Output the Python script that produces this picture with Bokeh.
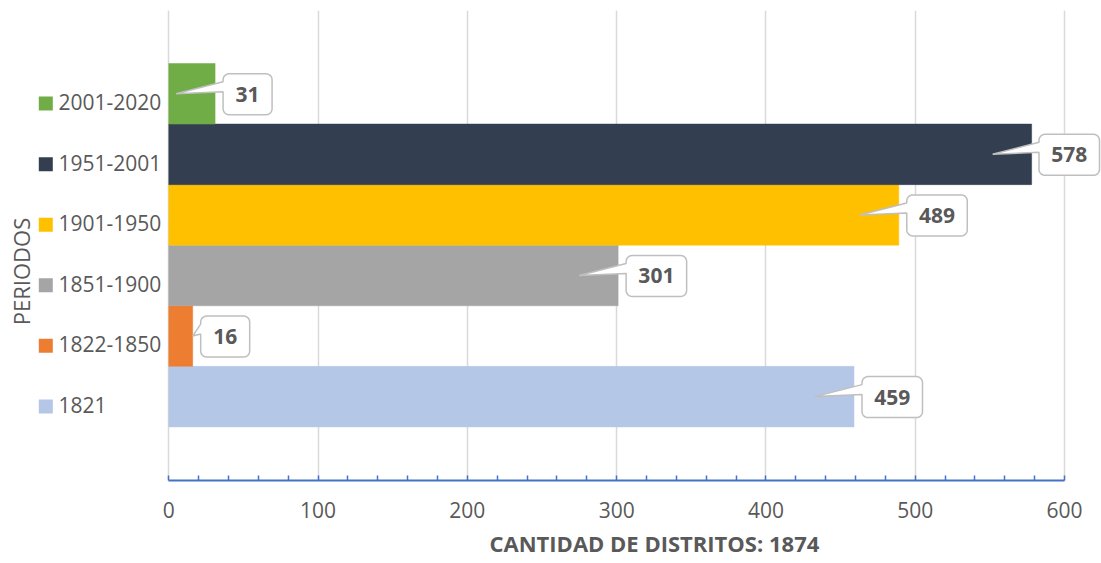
import numpy as np
from bokeh.plotting import figure
from bokeh.models import Range1d, FixedTicker, ColumnDataSource, Title
from bokeh.core.properties import value
from bokeh.embed import file_html
from bokeh.resources import INLINE

# ---------------- data ----------------
categories = ["1821", "1822-1850", "1851-1900", "1901-1950", "1951-2001", "2001-2020"]
counts = [459, 16, 301, 489, 578, 31]
colors = ["#B4C7E7", "#ED7D31", "#A5A5A5", "#FFC000", "#333F50", "#70AD47"]
x_ticks = [0, 100, 200, 300, 400, 500, 600]
x_title = "CANTIDAD DE DISTRITOS: 1874"
y_title = "PERIODOS"

# ---------------- layout constants (pixels) ----------------
W, H = 1101, 563
BT = 10
FRAME_BOTTOM = 480
BB = H - FRAME_BOTTOM
FH = FRAME_BOTTOM - BT
X0_PX = 168.3          # x = 0 measured from frame left
X_SCALE = 1.4928       # px per unit
x_start = -X0_PX / X_SCALE
x_end = x_start + W / X_SCALE
y_start, y_end = -1.385, 6.375
Y_SCALE = FH / (y_end - y_start)
TXT = "#595959"
FONT = "Open Sans"

p = figure(width=W, height=H, x_range=Range1d(x_start, x_end),
           y_range=Range1d(y_start, y_end), output_backend="svg",
           toolbar_location=None, y_axis_location=None,
           min_border_left=0, min_border_right=0,
           min_border_top=BT, min_border_bottom=BB)
p.outline_line_color = None
p.background_fill_color = "white"
p.border_fill_color = "white"
p.ygrid.visible = False

minor = [t for t in range(x_ticks[0], x_ticks[-1], 20) if t not in x_ticks]
ax = p.xaxis[0]
ax.ticker = FixedTicker(ticks=x_ticks, minor_ticks=minor)
ax.bounds = (x_ticks[0], x_ticks[-1])
ax.axis_line_color = "#4472C4"
ax.axis_line_width = 2
ax.major_tick_line_color = "#4472C4"
ax.minor_tick_line_color = "#4472C4"
ax.major_tick_line_width = 1.5
ax.minor_tick_line_width = 1.5
ax.major_tick_in = 5
ax.major_tick_out = 0
ax.minor_tick_in = 5
ax.minor_tick_out = 0
ax.major_label_text_font = FONT
ax.major_label_text_font_size = "21px"
ax.major_label_text_color = TXT
ax.major_label_standoff = 21

# x-axis title, placed under the axis
p.add_layout(Title(text=x_title, align="left", offset=489, standoff=10,
                   text_font=FONT, text_font_size="22px", text_font_style="bold",
                   text_color=TXT), "below")

p.xgrid.grid_line_color = "#D9D9D9"
p.xgrid.grid_line_width = 1.5

idx = list(range(len(categories)))
src = ColumnDataSource(dict(y=idx, right=counts, color=colors, cat=categories))
p.hbar(y="y", left=0, right="right", height=1.0, fill_color="color",
       line_color="color", line_width=0.5, source=src)

# category labels with colour squares
lab_x = (58 - X0_PX) / X_SCALE
sq_x = (45.3 - X0_PX) / X_SCALE
p.text(x=[lab_x] * len(idx), y=[i - 8.3 / Y_SCALE for i in idx], text=categories,
       text_font=value(FONT), text_font_size="21px", text_color=TXT,
       text_align="left", text_baseline="middle")
p.scatter(x=[sq_x] * len(idx), y=[i - 9.8 / Y_SCALE for i in idx], marker="square",
          size=14, fill_color=colors, line_color=None)

# y title
p.text(x=[(20 - X0_PX) / X_SCALE], y=[y_start + (FRAME_BOTTOM - 271) / Y_SCALE], text=[y_title],
       angle=np.pi / 2, text_font=value(FONT), text_font_size="22px", text_color=TXT,
       text_align="center", text_baseline="middle")

# callouts
def arc(cx, cy, r, a0, a1, n=7):
    a = np.radians(np.linspace(a0, a1, n))
    return list(zip(cx + r * np.cos(a), cy + r * np.sin(a)))

xs, ys, tx, ty, tt = [], [], [], [], []
frame_right = W - X0_PX
for i, v in zip(idx, counts):
    end = v * X_SCALE
    w = 26 + 11.5 * len(str(v))
    h = 41
    l = min(end + 8, frame_right - 2 - w)
    t = -20
    r = 6
    tip = end - 39 if end - 39 > 0 else end
    pts = []
    pts += arc(l + r, t + r, r, 180, 270)
    pts += arc(l + w - r, t + r, r, 270, 360)
    pts += arc(l + w - r, t + h - r, r, 0, 90)
    pts += arc(l + r, t + h - r, r, 90, 180)
    pts += [(l, t + 18), (tip, 0), (l, t + 8)]
    xs.append([px / X_SCALE for px, _ in pts])
    ys.append([i - py / Y_SCALE for _, py in pts])
    tx.append((l + w / 2) / X_SCALE)
    ty.append(i - (t + h / 2) / Y_SCALE)
    tt.append(str(v))

p.patches(xs=xs, ys=ys, fill_color="white", line_color="#BFBFBF", line_width=1.5)
p.text(x=tx, y=ty, text=tt, text_font=value(FONT), text_font_size="21px",
       text_font_style="bold", text_color=TXT, text_align="center", text_baseline="middle")

open("out.html", "w").write(file_html(p, INLINE))
